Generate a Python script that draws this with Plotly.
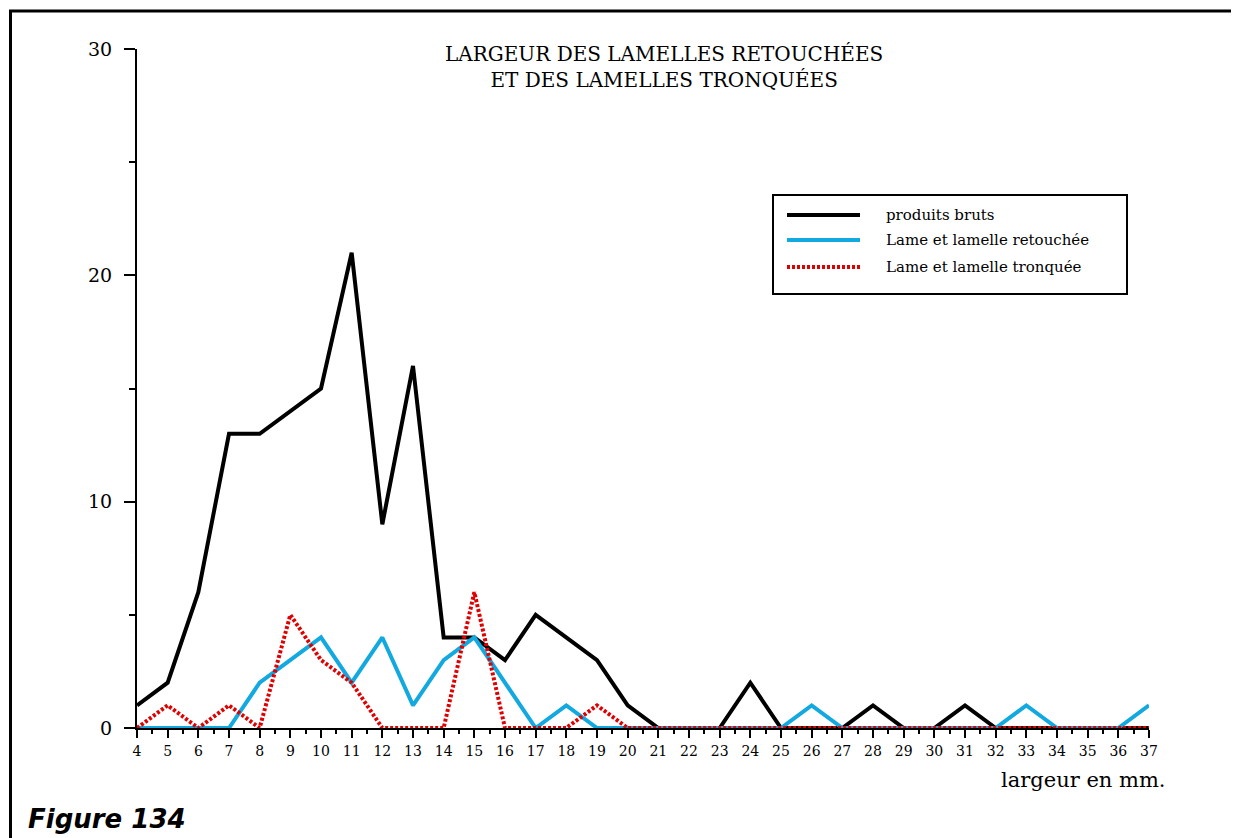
import plotly.graph_objects as go

# ---- data ----
largeur = list(range(4, 38))
produits_bruts = [1, 2, 6, 13, 13, 14, 15, 21, 9, 16, 4, 4, 3, 5, 4, 3, 1,
                  0, 0, 0, 2, 0, 0, 0, 1, 0, 0, 1, 0, 0, 0, 0, 0, 0]
lame_retouchee = [0, 0, 0, 0, 2, 3, 4, 2, 4, 1, 3, 4, 2, 0, 1, 0, 0,
                  0, 0, 0, 0, 0, 1, 0, 0, 0, 0, 0, 0, 1, 0, 0, 0, 1]
lame_tronquee = [0, 1, 0, 1, 0, 5, 3, 2, 0, 0, 0, 6, 0, 0, 0, 1, 0,
                 0, 0, 0, 0, 0, 0, 0, 0, 0, 0, 0, 0, 0, 0, 0, 0, 0]
series_names = ["produits bruts", "Lame et lamelle retouchée", "Lame et lamelle tronquée"]
y_ticks = [0, 10, 20, 30]
title_lines = ["LARGEUR DES LAMELLES RETOUCHÉES", "ET DES LAMELLES TRONQUÉES"]

BLACK = "#000000"
BLUE = "#12A8E0"
RED = "#E00000"
SERIF = "DejaVu Serif"

OFF = 8  # page body margin
W, H = 1231, 830
L, T = 137 - OFF, 49 - OFF
R = W - (1149 - OFF)
B = H - (728 - OFF)
PW, PH = W - L - R, H - T - B


def px(x):
    return (x - OFF - L) / PW


def py(y):
    return (H - B - (y - OFF)) / PH


fig = go.Figure()
styles = [dict(color=BLACK, width=4), dict(color=BLUE, width=4),
          dict(color=RED, width=4, dash="3px,2px")]
for name, vals, st in zip(series_names, [produits_bruts, lame_retouchee, lame_tronquee], styles):
    fig.add_trace(go.Scatter(x=largeur, y=vals, mode="lines", name=name,
                             line=st, showlegend=False))

fig.update_layout(
    width=W, height=H,
    margin=dict(l=L, r=R, t=T, b=B),
    paper_bgcolor="white", plot_bgcolor="white",
    font=dict(family=SERIF, color="black"),
)
fig.update_xaxes(
    range=[4, 37], tickmode="array", tickvals=largeur,
    ticktext=[str(v) for v in largeur],
    showline=True, linecolor="black", linewidth=2,
    ticks="outside", ticklen=8, tickwidth=2, tickcolor="black",
    tickfont=dict(family=SERIF, size=14),
    ticklabelstandoff=1,
    minor=dict(dtick=0.5, tick0=4.5, ticks="outside", ticklen=4, tickwidth=2, tickcolor="black"),
    showgrid=False, zeroline=False, layer="below traces",
)
fig.update_yaxes(
    range=[0, 30], tickmode="array", tickvals=y_ticks,
    showline=True, linecolor="black", linewidth=2,
    ticks="outside", ticklen=11, tickwidth=2, tickcolor="black",
    tickfont=dict(family=SERIF, size=19),
    ticklabelstandoff=8,
    minor=dict(tickvals=[5, 15, 25], ticks="outside", ticklen=6, tickwidth=2, tickcolor="black"),
    showgrid=False, zeroline=False, layer="below traces",
)

shapes = []
# outer frame (left and top)
shapes.append(dict(type="line", xref="paper", yref="paper", x0=px(10.5), x1=px(10.5),
                   y0=py(845), y1=py(11), line=dict(color="black", width=3)))
shapes.append(dict(type="line", xref="paper", yref="paper", x0=px(9), x1=px(1245),
                   y0=py(11), y1=py(11), line=dict(color="black", width=3)))
# legend box
shapes.append(dict(type="rect", xref="paper", yref="paper", x0=px(773), x1=px(1127),
                   y0=py(294), y1=py(195), line=dict(color="black", width=2),
                   fillcolor="white"))
rows_y = [215, 240, 267]
for st, ry in zip(styles, rows_y):
    ln = dict(color=st["color"], width=4)
    if "dash" in st:
        ln["dash"] = st["dash"]
    shapes.append(dict(type="line", xref="paper", yref="paper", x0=px(787), x1=px(860),
                       y0=py(ry), y1=py(ry), line=ln))
fig.update_layout(shapes=shapes)

ann = []
for name, ry in zip(series_names, rows_y):
    ann.append(dict(text=name, xref="paper", yref="paper", x=px(884), y=py(ry),
                    xanchor="left", yanchor="middle", showarrow=False,
                    font=dict(family=SERIF, size=15)))
ann.append(dict(text="<br>".join(title_lines), xref="paper", yref="paper",
                x=px(664), y=py(67), xanchor="center", yanchor="middle",
                showarrow=False, align="center",
                font=dict(family=SERIF, size=20)))
ann.append(dict(text="largeur en mm.", xref="paper", yref="paper", x=px(1168), y=py(780),
                xanchor="right", yanchor="middle", showarrow=False,
                font=dict(family=SERIF, size=21)))
ann.append(dict(text="<b><i>Figure 134</i></b>", xref="paper", yref="paper", x=px(26),
                y=py(819), xanchor="left", yanchor="middle", showarrow=False,
                font=dict(family="DejaVu Sans", size=26)))
fig.update_layout(annotations=ann)

fig.write_html("out.html")
